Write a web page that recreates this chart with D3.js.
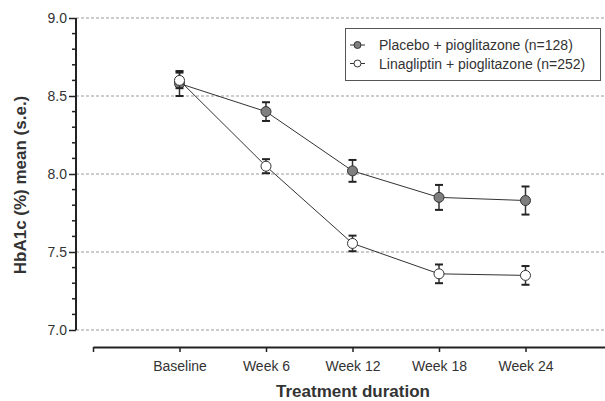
<!DOCTYPE html>
<html><head><meta charset="utf-8">
<script src="https://cdn.jsdelivr.net/npm/d3@7"></script>
<style>body{margin:0;background:#fff}svg{display:block}text{font-family:"Liberation Sans",Arial,Helvetica,sans-serif}</style>
</head><body>
<svg id="c" width="605" height="401"></svg>
<script>
const categories = ["Baseline","Week 6","Week 12","Week 18","Week 24"];
const placeboMean = [8.58, 8.40, 8.02, 7.85, 7.83];
const placeboSE   = [0.08, 0.06, 0.07, 0.08, 0.09];
const linaMean    = [8.60, 8.05, 7.555, 7.36, 7.35];
const linaSE      = [0.05, 0.045, 0.05, 0.06, 0.06];
const yTicks = [7.0, 7.5, 8.0, 8.5, 9.0];
const seriesNames = ["Placebo + pioglitazone (n=128)", "Linagliptin + pioglitazone (n=252)"];

const svg = d3.select("#c");
const x = d3.scaleLinear().domain([0, 6]).range([93, 612]);
const y = d3.scaleLinear().domain([7, 9]).range([330, 18]);
const xLeft = 76;

// gridlines
svg.append("g").selectAll("line").data(yTicks).join("line")
  .attr("x1", xLeft).attr("x2", 605).attr("y1", d => y(d)).attr("y2", d => y(d))
  .attr("stroke", "#9a9a9a").attr("stroke-width", 1).attr("stroke-dasharray", "3,2");

// y axis
const yAxis = svg.append("g").attr("transform", `translate(${xLeft},0)`)
  .call(d3.axisLeft(y).tickValues(yTicks).tickFormat(d3.format(".1f")).tickSize(7).tickPadding(2));
yAxis.select(".domain").attr("stroke", "#222").attr("stroke-width", 2).attr("d", `M0,${y(9)}V${y(7)}`);
yAxis.selectAll(".tick line").attr("stroke", "#222").attr("stroke-width", 1.5);
yAxis.selectAll(".tick text").attr("font-size", 14).attr("fill", "#333");
const minor = d3.range(7.1, 9.0, 0.1).filter(v => Math.abs(v * 2 - Math.round(v * 2)) > 0.01);
svg.append("g").selectAll("line").data(minor).join("line")
  .attr("x1", xLeft - 4).attr("x2", xLeft).attr("y1", d => y(d)).attr("y2", d => y(d))
  .attr("stroke", "#222").attr("stroke-width", 1.5);

// x axis
const xAxisY = 347;
const xAxis = svg.append("g").attr("transform", `translate(0,${xAxisY})`)
  .call(d3.axisBottom(x).tickValues([0,1,2,3,4,5]).tickFormat(d => d === 0 ? "" : categories[d - 1]).tickSize(5).tickSizeOuter(0).tickPadding(9));
xAxis.select(".domain").attr("stroke", "#222").attr("stroke-width", 2);
xAxis.selectAll(".tick line").attr("stroke", "#222").attr("stroke-width", 1.5);
xAxis.selectAll(".tick text").attr("font-size", 14).attr("fill", "#333");

// axis titles
svg.append("text").attr("x", 353).attr("y", 397).attr("text-anchor", "middle")
  .attr("font-size", 17).attr("font-weight", "bold").attr("fill", "#333").text("Treatment duration");
svg.append("text").attr("transform", "translate(26,185) rotate(-90)").attr("text-anchor", "middle")
  .attr("font-size", 17).attr("font-weight", "bold").attr("fill", "#333").text("HbA1c (%) mean (s.e.)");

const line = d3.line().x((d, i) => x(i + 1)).y(d => y(d));
const series = [
  {mean: placeboMean, se: placeboSE, fill: "#7f7f7f"},
  {mean: linaMean, se: linaSE, fill: "#ffffff"}
];
series.forEach(s => {
  const g = svg.append("g");
  g.append("path").attr("d", line(s.mean)).attr("fill", "none").attr("stroke", "#333").attr("stroke-width", 1);
  s.mean.forEach((m, i) => {
    const cx = x(i + 1), t = y(m + s.se[i]), b = y(m - s.se[i]);
    g.append("line").attr("x1", cx).attr("x2", cx).attr("y1", t).attr("y2", b).attr("stroke", "#333").attr("stroke-width", 1.5);
    [t, b].forEach(yy => g.append("line").attr("x1", cx - 4).attr("x2", cx + 4).attr("y1", yy).attr("y2", yy).attr("stroke", "#222").attr("stroke-width", 2));
  });
  g.selectAll("circle").data(s.mean).join("circle")
    .attr("cx", (d, i) => x(i + 1)).attr("cy", d => y(d)).attr("r", 5)
    .attr("fill", s.fill).attr("stroke", "#333").attr("stroke-width", 1);
});

// legend
const lg = svg.append("g");
lg.append("rect").attr("x", 345.5).attr("y", 28.5).attr("width", 255).attr("height", 52)
  .attr("fill", "#fff").attr("stroke", "#555").attr("stroke-width", 1);
seriesNames.forEach((name, i) => {
  const yy = 45 + i * 18.5;
  lg.append("line").attr("x1", 350).attr("x2", 365).attr("y1", yy).attr("y2", yy).attr("stroke", "#333").attr("stroke-width", 1);
  lg.append("circle").attr("cx", 357.5).attr("cy", yy).attr("r", 3.5).attr("fill", series[i].fill).attr("stroke", "#333");
  lg.append("text").attr("x", 379).attr("y", yy + 5).attr("font-size", 14).attr("fill", "#333").text(name);
});
</script>
</body></html>
